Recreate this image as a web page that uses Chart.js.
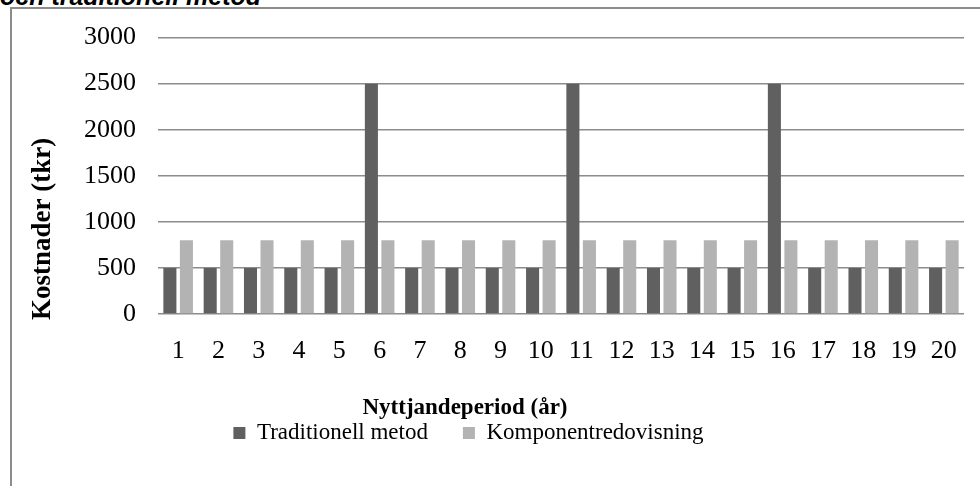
<!DOCTYPE html>
<html>
<head>
<meta charset="utf-8">
<script src="https://cdn.jsdelivr.net/npm/chart.js@4/dist/chart.umd.min.js"></script>
<style>
  html, body { margin: 0; padding: 0; background: #fff; overflow: hidden; }
  #wrap { position: relative; width: 980px; height: 486px; }
  #frame { position: absolute; left: 10px; top: 7px; width: 1000px; height: 600px;
           border-left: 2px solid #8c8c8c; border-top: 2px solid #8c8c8c; box-sizing: border-box; }
  #heading { position: absolute; left: 0; top: -18px; margin: 0; line-height: normal;
             font: italic bold 25px "Liberation Sans", Arial, sans-serif; color: #000; white-space: nowrap; }
  canvas { position: absolute; left: 0; top: 0; }
</style>
</head>
<body>
<div id="wrap">
  <div id="frame"></div>
  <p id="heading">och traditionell metod</p>
  <canvas id="c" width="980" height="486"></canvas>
</div>
<script>
// Usage periods (years)
const periods = ['1','2','3','4','5','6','7','8','9','10','11','12','13','14','15','16','17','18','19','20'];
// Yearly cost, traditional method (tkr)
const traditionell = [500,500,500,500,500,2500,500,500,500,500,2500,500,500,500,500,2500,500,500,500,500];
// Yearly cost, component accounting (tkr)
const komponent = [800,800,800,800,800,800,800,800,800,800,800,800,800,800,800,800,800,800,800,800];
const yTicks = [0,500,1000,1500,2000,2500,3000];

const serif = '"Liberation Serif", "Times New Roman", serif';

// Nudges the axis titles and the legend away from their default centred spots
const placement = {
  id: 'placement',
  afterLayout(chart) {
    const wrap = (scale, dx, dy) => {
      if (scale._titleWrapped) return;
      scale._titleWrapped = true;
      const draw = scale.drawTitle;
      scale.drawTitle = function () {
        const box = { l: this.left, r: this.right, t: this.top, b: this.bottom };
        this.left += dx; this.right += dx; this.top += dy; this.bottom += dy;
        draw.call(this);
        this.left = box.l; this.right = box.r; this.top = box.t; this.bottom = box.b;
      };
    };
    wrap(chart.scales.x, -96, 0);
    wrap(chart.scales.y, 0, 6);
    chart.legend.left -= 27;
    chart.legend.right -= 27;
  }
};

new Chart(document.getElementById('c'), {
  type: 'bar',
  data: {
    labels: periods,
    datasets: [
      { label: 'Traditionell metod', data: traditionell, backgroundColor: '#606060',
        categoryPercentage: 0.82, barPercentage: 0.79 },
      { label: 'Komponentredovisning', data: komponent, backgroundColor: '#b3b3b3',
        categoryPercentage: 0.82, barPercentage: 0.79 }
    ]
  },
  plugins: [placement],
  options: {
    responsive: false,
    animation: false,
    layout: { padding: { left: 27, top: 36, right: 16, bottom: 31.5 } },
    plugins: {
      tooltip: { enabled: false },
      legend: {
        position: 'bottom',
        labels: {
          color: '#000',
          font: { family: serif, size: 23 },
          boxWidth: 12, boxHeight: 12, padding: 35
        }
      }
    },
    scales: {
      x: {
        grid: { display: false },
        border: { display: false },
        ticks: { color: '#000', font: { family: serif, size: 26 }, padding: 14, maxRotation: 0 },
        title: { display: true, text: 'Nyttjandeperiod (år)', color: '#000',
                 font: { family: serif, size: 23, weight: 'bold' }, padding: { top: 0, bottom: -35.3 } },
        afterFit: s => { s.height = 72.5; }
      },
      y: {
        min: 0, max: 3000,
        afterBuildTicks: s => { s.ticks = yTicks.map(v => ({ value: v })); },
        grid: { color: '#8c8c8c', lineWidth: 1.5, drawTicks: false },
        border: { display: false },
        ticks: { color: '#000', font: { family: serif, size: 26 }, padding: 22,
                 callback: v => String(v) },
        title: { display: true, text: 'Kostnader (tkr)', color: '#000', align: 'start',
                 font: { family: serif, size: 27, weight: 'bold' }, padding: 0 },
        afterFit: s => { s.width = 158 - 27; }
      }
    }
  }
});
</script>
</body>
</html>
